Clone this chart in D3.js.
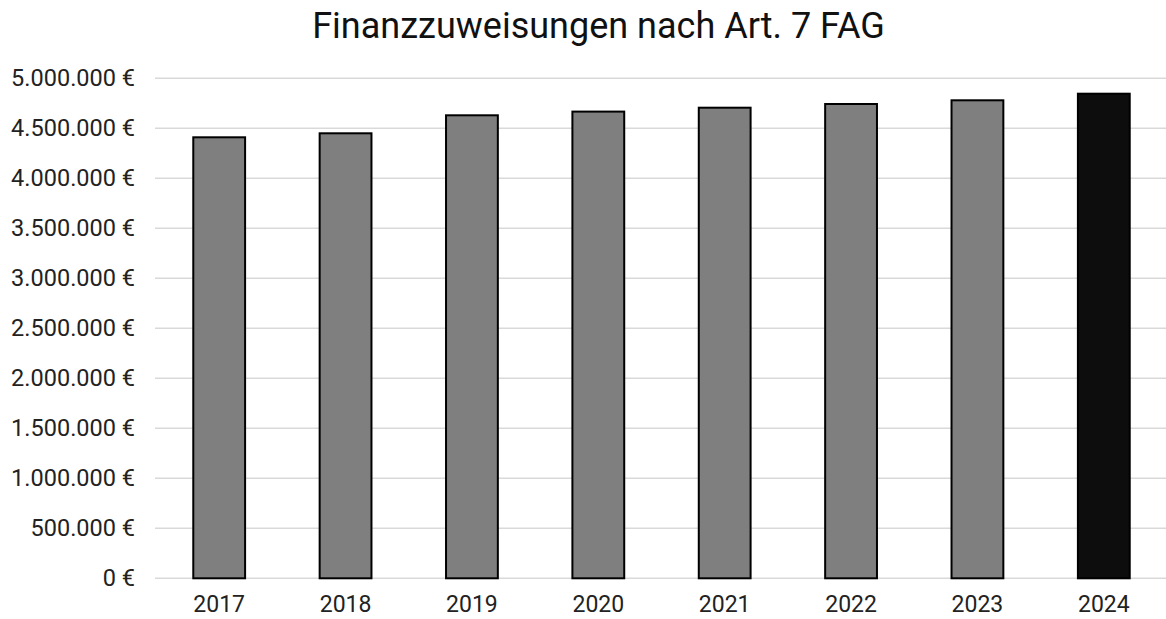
<!DOCTYPE html>
<html>
<head>
<meta charset="utf-8">
<script src="https://cdn.jsdelivr.net/npm/d3@7"></script>
<style>
  body { margin: 0; background: #fff; }
  svg { display: block; font-family: Roboto, "Noto Sans", sans-serif; }
</style>
</head>
<body>
<script>
  "use strict";

  const title = "Finanzzuweisungen nach Art. 7 FAG";
  const years = ["2017", "2018", "2019", "2020", "2021", "2022", "2023", "2024"];
  const values = [4410000, 4450000, 4630000, 4667000, 4706000, 4743000, 4780000, 4846000];
  const highlightYear = "2024";
  const yTicks = [0, 500000, 1000000, 1500000, 2000000, 2500000, 3000000, 3500000, 4000000, 4500000, 5000000];

  const width = 1166, height = 619;
  const plot = { left: 156, right: 1167, top: 78.3, bottom: 578.3 };

  const svg = d3.select("body").append("svg")
    .attr("width", width)
    .attr("height", height);

  const x = d3.scaleBand()
    .domain(years)
    .range([plot.left, plot.right])
    .paddingInner(0.59)
    .paddingOuter(0.295);

  const y = d3.scaleLinear()
    .domain([0, 5000000])
    .range([plot.bottom, plot.top]);

  const fmt = d3.formatLocale({ decimal: ",", thousands: ".", grouping: [3], currency: ["", " €"] });
  const euro = v => fmt.format(",.0f")(v) + " €";

  // title
  svg.append("text")
    .attr("x", 598.5)
    .attr("y", 37.5)
    .attr("text-anchor", "middle")
    .attr("font-size", 36)
    .attr("fill", "#111")
    .text(title);

  // grid lines
  svg.append("g")
    .selectAll("line")
    .data(yTicks)
    .join("line")
    .attr("x1", plot.left - 1)
    .attr("x2", width)
    .attr("y1", d => y(d))
    .attr("y2", d => y(d))
    .attr("stroke", "#d9d9d9")
    .attr("stroke-width", 1.6);

  // y axis labels
  const yAxis = svg.append("g")
    .attr("transform", `translate(${plot.left - 21},0)`)
    .call(d3.axisLeft(y).tickValues(yTicks).tickFormat(euro).tickSize(0).tickPadding(0));
  yAxis.select(".domain").remove();
  yAxis.selectAll("text")
    .attr("font-size", 23.5)
    .attr("font-family", "Roboto, sans-serif")
    .attr("fill", "#222");

  // bars
  svg.append("g")
    .selectAll("rect")
    .data(years.map((yr, i) => ({ year: yr, value: values[i] })))
    .join("rect")
    .attr("x", d => x(d.year))
    .attr("width", x.bandwidth())
    .attr("y", d => y(d.value))
    .attr("height", d => y(0) - y(d.value))
    .attr("fill", d => d.year === highlightYear ? "#0d0d0d" : "#7f7f7f")
    .attr("stroke", "#000")
    .attr("stroke-width", 2);

  // x axis labels
  const xAxis = svg.append("g")
    .attr("transform", `translate(0,${plot.bottom + 34})`)
    .call(d3.axisBottom(x).tickSize(0).tickPadding(0));
  xAxis.select(".domain").remove();
  xAxis.selectAll("text")
    .attr("dy", null)
    .attr("font-size", 23)
    .attr("font-family", "Roboto, sans-serif")
    .attr("fill", "#222");
</script>
</body>
</html>
